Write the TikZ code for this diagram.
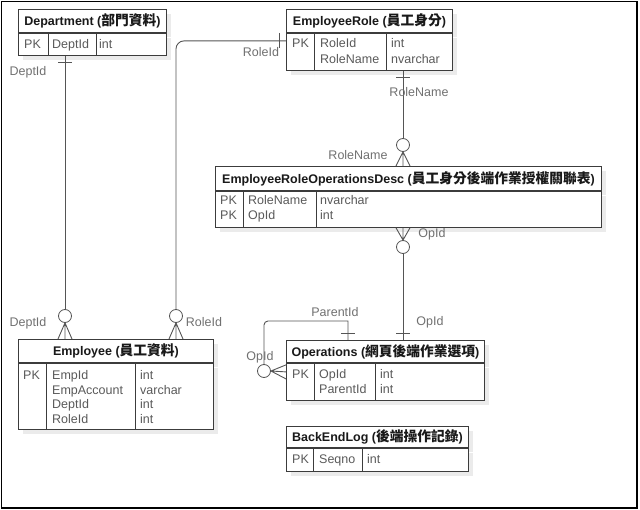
\documentclass[tikz,border=0pt]{standalone}
\usepackage{fontspec}
\setmainfont{Liberation Sans}
\newfontfamily\cjk[Scale=1.1]{Noto Sans CJK TC}
\usetikzlibrary{shadows}

\definecolor{boxc}{HTML}{3C3C3C}
\definecolor{relc}{HTML}{555555}
\definecolor{fldc}{HTML}{5A5A5A}
\definecolor{lblc}{HTML}{707070}
\newcommand{\erfont}{\fontsize{12.5}{14}\selectfont}

\begin{document}
\begin{tikzpicture}[
    x=1pt, y=-1pt,
    every node/.style={font=\erfont},
    hdr/.style={rectangle, draw=boxc, line width=0.9pt, fill=white, anchor=north west,
                inner sep=0pt, font=\erfont\bfseries, text=black!90,
                drop shadow={fill=black!8, opacity=1, shadow xshift=5pt, shadow yshift=-5pt}},
    bdy/.style={rectangle, draw=boxc, line width=0.9pt, fill=white, anchor=north west,
                inner sep=0pt,
                drop shadow={fill=black!8, opacity=1, shadow xshift=5pt, shadow yshift=-5pt}},
    col/.style={draw=boxc, line width=0.8pt},
    fld/.style={anchor=base west, inner sep=0pt, text=fldc},
    rel/.style={draw=relc, line width=0.9pt},
    opt/.style={circle, draw=relc, line width=0.8pt, fill=white, minimum size=13pt, inner sep=0pt},
    lbl/.style={anchor=base, inner sep=0pt, text=lblc},
  ]
  \useasboundingbox (0,0) rectangle (640,510);
  \draw[line width=1.4pt] (1.5,1.5) rectangle (637,508);

  % Department
  \node[hdr, minimum width=148pt, minimum height=23pt] (dept) at (18,9) {Department ({\cjk 部門資料})};
  \node[bdy, minimum width=148pt, minimum height=22pt] (deptbody) at (dept.south west) {};
  \draw[col] ([xshift=30pt]deptbody.north west) -- ([xshift=30pt]deptbody.south west);
  \draw[col] ([xshift=78pt]deptbody.north west) -- ([xshift=78pt]deptbody.south west);
  \node[fld] (dept-pk) at (24,49) {PK};
  \node[fld] (dept-f1) at (52,49) {DeptId};
  \node[fld] (dept-t1) at (99,49) {int};

  % EmployeeRole
  \node[hdr, minimum width=166pt, minimum height=23pt] (role) at (286,9) {EmployeeRole ({\cjk 員工身分})};
  \node[bdy, minimum width=166pt, minimum height=37pt] (rolebody) at (role.south west) {};
  \draw[col] ([xshift=28pt]rolebody.north west) -- ([xshift=28pt]rolebody.south west);
  \draw[col] ([xshift=100pt]rolebody.north west) -- ([xshift=100pt]rolebody.south west);
  \node[fld] (role-pk) at (292,48) {PK};
  \node[fld] (role-f1) at (320,48) {RoleId};
  \node[fld] (role-f2) at (320,64) {RoleName};
  \node[fld] (role-t1) at (391,48) {int};
  \node[fld] (role-t2) at (391,64) {nvarchar};

  % EmployeeRoleOperationsDesc
  \node[hdr, minimum width=386pt, minimum height=24pt] (ero) at (215,166) {EmployeeRoleOperationsDesc ({\cjk 員工身分後端作業授權關聯表})};
  \node[bdy, minimum width=386pt, minimum height=36pt] (erobody) at (ero.south west) {};
  \draw[col] ([xshift=28pt]erobody.north west) -- ([xshift=28pt]erobody.south west);
  \draw[col] ([xshift=101pt]erobody.north west) -- ([xshift=101pt]erobody.south west);
  \node[fld] (ero-pk1) at (220,205) {PK};
  \node[fld] (ero-pk2) at (220,220) {PK};
  \node[fld] (ero-f1) at (248,205) {RoleName};
  \node[fld] (ero-f2) at (248,220) {OpId};
  \node[fld] (ero-t1) at (320,205) {nvarchar};
  \node[fld] (ero-t2) at (320,220) {int};

  % Employee
  \node[hdr, minimum width=195pt, minimum height=23pt] (emp) at (18,339) {Employee ({\cjk 員工資料})};
  \node[bdy, minimum width=195pt, minimum height=66pt] (empbody) at (emp.south west) {};
  \draw[col] ([xshift=28pt]empbody.north west) -- ([xshift=28pt]empbody.south west);
  \draw[col] ([xshift=117pt]empbody.north west) -- ([xshift=117pt]empbody.south west);
  \node[fld] (emp-pk) at (23,380) {PK};
  \node[fld] (emp-f1) at (52,380) {EmpId};
  \node[fld] (emp-f2) at (52,394.5) {EmpAccount};
  \node[fld] (emp-f3) at (52,409) {DeptId};
  \node[fld] (emp-f4) at (52,423.5) {RoleId};
  \node[fld] (emp-t1) at (140,380) {int};
  \node[fld] (emp-t2) at (140,394.5) {varchar};
  \node[fld] (emp-t3) at (140,409) {int};
  \node[fld] (emp-t4) at (140,423.5) {int};

  % Operations
  \node[hdr, minimum width=198pt, minimum height=22pt] (ops) at (286,340) {Operations ({\cjk 網頁後端作業選項})};
  \node[bdy, minimum width=198pt, minimum height=37pt] (opsbody) at (ops.south west) {};
  \draw[col] ([xshift=28pt]opsbody.north west) -- ([xshift=28pt]opsbody.south west);
  \draw[col] ([xshift=89pt]opsbody.north west) -- ([xshift=89pt]opsbody.south west);
  \node[fld] (ops-pk) at (292,379) {PK};
  \node[fld] (ops-f1) at (319,379) {OpId};
  \node[fld] (ops-f2) at (319,394) {ParentId};
  \node[fld] (ops-t1) at (380,379) {int};
  \node[fld] (ops-t2) at (380,394) {int};

  % BackEndLog
  \node[hdr, minimum width=182pt, minimum height=21pt] (log) at (286,426) {BackEndLog ({\cjk 後端操作記錄})};
  \node[bdy, minimum width=182pt, minimum height=23pt] (logbody) at (log.south west) {};
  \draw[col] ([xshift=27pt]logbody.north west) -- ([xshift=27pt]logbody.south west);
  \draw[col] ([xshift=76pt]logbody.north west) -- ([xshift=76pt]logbody.south west);
  \node[fld] (log-pk) at (292,464) {PK};
  \node[fld] (log-f1) at (319,464) {Seqno};
  \node[fld] (log-t1) at (367,464) {int};

  % optional ends
  \node[opt] (deptopt) at (65,316) {};
  \node[opt] (roleopt) at (176,316) {};
  \node[opt] (rnopt) at (403,145) {};
  \node[opt] (eroopt) at (403,247) {};
  \node[opt] (selfopt) at (264,371) {};

  % Department -- Employee
  \draw[rel] ([xshift=47pt]deptbody.south west) -- (deptopt.north);
  \draw[rel] ([xshift=40pt,yshift=-7pt]deptbody.south west) -- ++(14,0);
  \draw[rel] (deptopt.south) -- ([xshift=40pt]emp.north west)
             (deptopt.south) -- ([xshift=47pt]emp.north west)
             (deptopt.south) -- ([xshift=54pt]emp.north west);
  \node[lbl] (l-dept1) at (28,75.5) {DeptId};
  \node[lbl] (l-dept2) at (28,326.5) {DeptId};

  % EmployeeRole -- Employee
  \draw[rel, rounded corners=8pt] ([yshift=-8pt]rolebody.north west) -| (roleopt.north);
  \draw[rel] ([xshift=-7pt]rolebody.north west) -- ++(0,15);
  \draw[rel] (roleopt.south) -- ([xshift=151pt]emp.north west)
             (roleopt.south) -- ([xshift=158pt]emp.north west)
             (roleopt.south) -- ([xshift=165pt]emp.north west);
  \node[lbl] (l-role1) at (261,57) {RoleId};
  \node[lbl] (l-role2) at (204,327) {RoleId};

  % EmployeeRole -- EmployeeRoleOperationsDesc
  \draw[rel] ([xshift=117pt]rolebody.south west) -- (rnopt.north);
  \draw[rel] ([xshift=110pt,yshift=-7pt]rolebody.south west) -- ++(14,0);
  \draw[rel] (rnopt.south) -- ([xshift=181pt]ero.north west)
             (rnopt.south) -- ([xshift=188pt]ero.north west)
             (rnopt.south) -- ([xshift=195pt]ero.north west);
  \node[lbl] (l-rn1) at (419,97) {RoleName};
  \node[lbl] (l-rn2) at (358,160) {RoleName};

  % EmployeeRoleOperationsDesc -- Operations
  \draw[rel] ([xshift=181pt]erobody.south west) -- (eroopt.north)
             ([xshift=188pt]erobody.south west) -- (eroopt.north)
             ([xshift=195pt]erobody.south west) -- (eroopt.north);
  \draw[rel] (eroopt.south) -- ([xshift=117pt]ops.north west);
  \draw[rel] ([xshift=110pt,yshift=7pt]ops.north west) -- ++(14,0);
  \node[lbl] (l-op1) at (432,238) {OpId};
  \node[lbl] (l-op2) at (430,326) {OpId};

  % Operations -- Operations
  \draw[rel] ([xshift=62pt]ops.north west) -- ++(0,-19) [rounded corners=4pt] -| (selfopt.north);
  \draw[rel] ([xshift=55pt,yshift=7pt]ops.north west) -- ++(14,0);
  \draw[rel] (selfopt.east) -- ([yshift=-2pt]opsbody.north west)
             (selfopt.east) -- ([yshift=-9pt]opsbody.north west)
             (selfopt.east) -- ([yshift=-16pt]opsbody.north west);
  \node[lbl] (l-par) at (335,317) {ParentId};
  \node[lbl] (l-op3) at (260,361) {OpId};
\end{tikzpicture}
\end{document}
